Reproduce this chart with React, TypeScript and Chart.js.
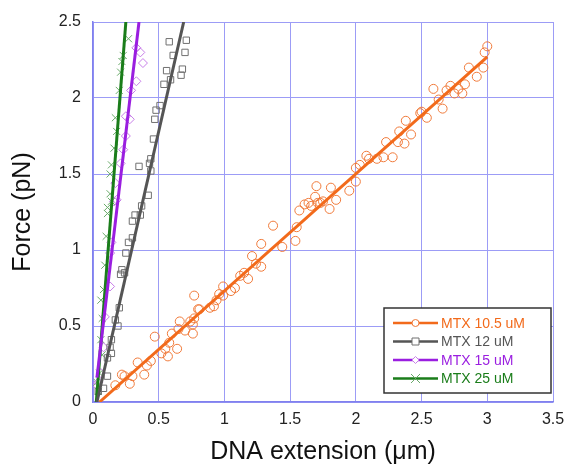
import React, { useEffect, useRef } from "react";
import { Chart, registerables } from "chart.js";

Chart.register(...registerables);

// ---- Data ----
const seriesNames = ["MTX 10.5 uM", "MTX 12 uM", "MTX 15 uM", "MTX 25 uM"];

const orangeX = [0.17, 0.22, 0.24, 0.28, 0.30, 0.34, 0.39, 0.41, 0.44, 0.47, 0.52, 0.55, 0.57, 0.58, 0.60, 0.64, 0.66, 0.65, 0.70, 0.74, 0.76, 0.77, 0.80, 0.76, 0.77, 0.81, 0.89, 0.92, 0.94, 0.96, 0.99, 0.99, 1.05, 1.08, 1.12, 1.15, 1.18, 1.21, 1.24, 1.28, 1.28, 1.37, 1.44, 1.54, 1.55, 1.57, 1.61, 1.64, 1.66, 1.69, 1.70, 1.71, 1.73, 1.75, 1.80, 1.81, 1.85, 1.95, 2.00, 2.00, 2.03, 2.08, 2.10, 2.16, 2.21, 2.23, 2.28, 2.32, 2.33, 2.37, 2.38, 2.42, 2.49, 2.50, 2.54, 2.59, 2.63, 2.66, 2.69, 2.72, 2.75, 2.78, 2.81, 2.83, 2.86, 2.92, 2.97, 2.98, 3.00];
const orangeY = [0.11, 0.18, 0.17, 0.12, 0.17, 0.26, 0.18, 0.24, 0.27, 0.43, 0.32, 0.35, 0.30, 0.39, 0.45, 0.35, 0.53, 0.48, 0.47, 0.53, 0.51, 0.70, 0.61, 0.45, 0.55, 0.61, 0.62, 0.63, 0.67, 0.71, 0.76, 0.70, 0.73, 0.75, 0.83, 0.85, 0.81, 0.96, 0.91, 0.89, 1.04, 1.16, 1.02, 1.06, 1.15, 1.26, 1.30, 1.31, 1.29, 1.35, 1.42, 1.31, 1.31, 1.32, 1.27, 1.41, 1.33, 1.39, 1.45, 1.54, 1.56, 1.62, 1.60, 1.60, 1.61, 1.71, 1.61, 1.71, 1.78, 1.70, 1.85, 1.76, 1.90, 1.91, 1.87, 2.06, 1.99, 1.93, 2.05, 2.08, 2.03, 2.06, 2.03, 2.09, 2.20, 2.14, 2.20, 2.30, 2.34];

const grayX = [0.58, 0.71, 0.70, 0.61, 0.56, 0.68, 0.67, 0.59, 0.54, 0.51, 0.48, 0.47, 0.46, 0.44, 0.43, 0.35, 0.44, 0.42, 0.37, 0.36, 0.32, 0.30, 0.30, 0.27, 0.25, 0.22, 0.24, 0.21, 0.20, 0.17, 0.19, 0.14, 0.13, 0.14, 0.11, 0.11, 0.08, 0.04];
const grayY = [2.37, 2.38, 2.30, 2.28, 2.18, 2.19, 2.15, 2.12, 2.09, 1.95, 1.92, 1.86, 1.73, 1.60, 1.57, 1.55, 1.52, 1.36, 1.29, 1.23, 1.23, 1.19, 1.08, 1.05, 0.98, 0.87, 0.85, 0.84, 0.62, 0.54, 0.50, 0.41, 0.36, 0.32, 0.29, 0.17, 0.09, 0.07];

const purpleX = [0.33, 0.36, 0.38, 0.33, 0.29, 0.25, 0.28, 0.25, 0.23, 0.21, 0.17, 0.16, 0.18, 0.14, 0.13, 0.13, 0.09, 0.08, 0.06, 0.03, 0.04];
const purpleY = [2.33, 2.30, 2.23, 2.11, 2.05, 1.88, 1.86, 1.75, 1.66, 1.57, 1.44, 1.32, 1.33, 1.05, 0.98, 0.76, 0.56, 0.36, 0.19, 0.11, 0.13];

const greenX = [0.27, 0.23, 0.22, 0.21, 0.20, 0.17, 0.18, 0.16, 0.14, 0.13, 0.13, 0.11, 0.14, 0.11, 0.10, 0.09, 0.08, 0.06, 0.07, 0.06, 0.07, 0.05, 0.03, 0.04];
const greenY = [2.39, 2.28, 2.24, 2.17, 2.05, 1.87, 1.78, 1.67, 1.56, 1.50, 1.37, 1.28, 1.32, 1.24, 1.09, 0.90, 0.74, 0.67, 0.55, 0.41, 0.31, 0.19, 0.13, 0.07];

// fit lines (start, end)
const orangeFitX = [0.05, 3.0];
const orangeFitY = [0.0, 2.27];
const grayFitX = [0.03, 0.69];
const grayFitY = [0.0, 2.5];
const purpleFitX = [0.03, 0.35];
const purpleFitY = [0.16, 2.5];
const greenFitX = [0.025, 0.25];
const greenFitY = [0.0, 2.5];

const xTicks = [0, 0.5, 1, 1.5, 2, 2.5, 3, 3.5];
const yTicks = [0, 0.5, 1, 1.5, 2, 2.5];

// ---- Styles ----
const lineColors = ["#f26a1b", "#555555", "#9a1ee0", "#1a7d1a"];
const markerColors = ["#f07a3a", "#707070", "#c77ee8", "#6aaa6a"];
const markerStyles = ["circle", "rect", "rectRot", "crossRot"];
const FONT = "'Liberation Sans', Arial, sans-serif";

const zip = (xs: number[], ys: number[]) => xs.map((x, i) => ({ x, y: ys[i] }));

const legendPlugin = {
  id: "customLegend",
  afterDraw(chart: any) {
    const ctx = chart.ctx as CanvasRenderingContext2D;
    const { right, bottom } = chart.chartArea;
    const w = 167;
    const h = 85;
    const x0 = right - 2 - w;
    const y0 = bottom - 9 - h;
    ctx.save();
    ctx.fillStyle = "#ffffff";
    ctx.fillRect(x0, y0, w, h);
    ctx.strokeStyle = "#333333";
    ctx.lineWidth = 1.5;
    ctx.strokeRect(x0, y0, w, h);
    ctx.font = `14px ${FONT}`;
    ctx.textBaseline = "middle";
    for (let i = 0; i < seriesNames.length; i++) {
      const cy = y0 + 15 + i * 18.5;
      const lx0 = x0 + 9;
      const lx1 = x0 + 54;
      ctx.strokeStyle = lineColors[i];
      ctx.lineWidth = 2.5;
      ctx.beginPath();
      ctx.moveTo(lx0, cy);
      ctx.lineTo(lx1, cy);
      ctx.stroke();
      const mx = (lx0 + lx1) / 2;
      const r = 3.5;
      ctx.strokeStyle = markerColors[i];
      ctx.lineWidth = 1;
      ctx.fillStyle = "#ffffff";
      ctx.beginPath();
      if (i === 0) {
        ctx.arc(mx, cy, r, 0, Math.PI * 2);
        ctx.fill();
        ctx.stroke();
      } else if (i === 1) {
        ctx.rect(mx - r, cy - r, 2 * r, 2 * r);
        ctx.fill();
        ctx.stroke();
      } else if (i === 2) {
        ctx.moveTo(mx, cy - r);
        ctx.lineTo(mx + r, cy);
        ctx.lineTo(mx, cy + r);
        ctx.lineTo(mx - r, cy);
        ctx.closePath();
        ctx.fill();
        ctx.stroke();
      } else {
        ctx.moveTo(mx - r - 1, cy - r - 1);
        ctx.lineTo(mx + r + 1, cy + r + 1);
        ctx.moveTo(mx + r + 1, cy - r - 1);
        ctx.lineTo(mx - r - 1, cy + r + 1);
        ctx.stroke();
      }
      ctx.fillStyle = lineColors[i];
      ctx.textAlign = "left";
      ctx.fillText(seriesNames[i], x0 + 57, cy + 1);
    }
    ctx.restore();
  },
};

export default function App() {
  const ref = useRef<HTMLCanvasElement | null>(null);

  useEffect(() => {
    if (!ref.current) return;
    const pointSets = [
      zip(orangeX, orangeY),
      zip(grayX, grayY),
      zip(purpleX, purpleY),
      zip(greenX, greenY),
    ];
    const fitSets = [
      zip(orangeFitX, orangeFitY),
      zip(grayFitX, grayFitY),
      zip(purpleFitX, purpleFitY),
      zip(greenFitX, greenFitY),
    ];
    const datasets: any[] = [];
    pointSets.forEach((d, i) => {
      datasets.push({
        label: seriesNames[i] + " data",
        data: d,
        showLine: false,
        pointStyle: markerStyles[i],
        pointRadius: i === 3 ? 5 : 4.5,
        pointBorderWidth: 1,
        pointBorderColor: markerColors[i],
        pointBackgroundColor: "rgba(255,255,255,0)",
        order: 2,
      });
    });
    fitSets.forEach((d, i) => {
      datasets.push({
        label: seriesNames[i],
        data: d,
        showLine: true,
        borderColor: lineColors[i],
        borderWidth: 3,
        pointRadius: 0,
        order: 1,
      });
    });

    const gridColor = "#9c9cf6";
    const chart = new Chart(ref.current, {
      type: "scatter",
      data: { datasets },
      options: {
        animation: false,
        responsive: false,
        layout: { padding: { top: 22, right: 15, left: 0, bottom: 0 } },
        plugins: { legend: { display: false }, tooltip: { enabled: false } },
        scales: {
          x: {
            type: "linear",
            min: 0,
            max: 3.5,
            afterBuildTicks: (s: any) => {
              s.ticks = xTicks.map((v) => ({ value: v }));
            },
            afterFit: (s: any) => {
              s.height = 70;
              s.paddingLeft = 0;
              s.paddingRight = 0;
            },
            grid: { color: gridColor, lineWidth: 1, drawTicks: false },
            border: { color: "#8080ee", width: 1.5 },
            ticks: {
              color: "#222",
              font: { family: FONT, size: 16 },
              padding: 8,
              callback: (v: any) => String(v),
            },
            title: {
              display: true,
              text: "DNA extension (μm)",
              color: "#111",
              font: { family: FONT, size: 25 },
              padding: { top: 5, bottom: 5 },
            },
          },
          y: {
            type: "linear",
            min: 0,
            max: 2.5,
            afterBuildTicks: (s: any) => {
              s.ticks = yTicks.map((v) => ({ value: v }));
            },
            afterFit: (s: any) => {
              s.width = 93;
              s.paddingTop = 0;
              s.paddingBottom = 0;
            },
            grid: { color: gridColor, lineWidth: 1, drawTicks: false },
            border: { color: "#8080ee", width: 1.5 },
            ticks: {
              color: "#222",
              font: { family: FONT, size: 16 },
              padding: 12,
              callback: (v: any) => String(v),
            },
            title: {
              display: true,
              text: "Force (pN)",
              color: "#111",
              font: { family: FONT, size: 25 },
              padding: { top: 8, bottom: 0 },
            },
          },
        },
      },
      plugins: [legendPlugin],
    });
    return () => chart.destroy();
  }, []);

  return (
    <div style={{ position: "absolute", left: 0, top: 0, width: 568, height: 472 }}>
      <canvas ref={ref} width={568} height={472} style={{ display: "block" }} />
    </div>
  );
}
